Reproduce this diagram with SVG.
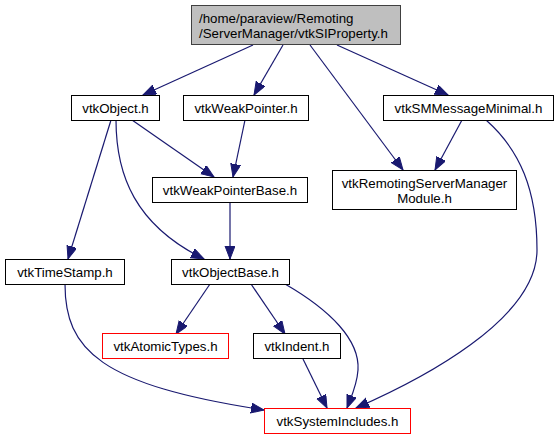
<svg xmlns="http://www.w3.org/2000/svg" width="559" height="440" viewBox="0 0 559 440">
<style>
.box{fill:#ffffff;stroke:#000000;stroke-width:1}
.red{fill:#ffffff;stroke:#ff0000;stroke-width:1}
.main{fill:#bfbfbf;stroke:#404040;stroke-width:1}
text{font-family:"Liberation Sans",Arial,sans-serif;font-size:13.3px;fill:#000000}
.c{text-anchor:middle}
.e{fill:none;stroke:#191970;stroke-width:1.2;marker-end:url(#arr)}
</style>
<defs>
<marker id="arr" markerUnits="userSpaceOnUse" markerWidth="14" markerHeight="11" refX="13" refY="5" orient="auto">
<path d="M0,0 L13,5 L0,10 z" fill="#191970" stroke="#191970" stroke-width="1"/>
</marker>
</defs>
<rect width="559" height="440" fill="#ffffff"/>
<g id="edges">
<path class="e" d="M253,45 L143,95"/>
<path class="e" d="M283,45 L254,95"/>
<path class="e" d="M310,45 L403,170"/>
<path class="e" d="M337,45 L448,95"/>
<path class="e" d="M132,120 L214,177"/>
<path class="e" d="M111,120 L68,259"/>
<path class="e" d="M116,120 C116,175 135,225 204,259"/>
<path class="e" d="M245,120 L233,177"/>
<path class="e" d="M230,202 L230,259"/>
<path class="e" d="M462,120 L435,170"/>
<path class="e" d="M486,120 C520,150 537,190 537,250 C537,320 420,380 356,408"/>
<path class="e" d="M65,284 C65,350 100,385 264,410"/>
<path class="e" d="M210,284 L176,334"/>
<path class="e" d="M251,284 L285,334"/>
<path class="e" d="M285,284 C330,310 360,340 358,370 C357,385 352,395 347,408"/>
<path class="e" d="M303,359 L327,408"/>
</g>
<g id="node_top">
<rect class="main" x="191.5" y="5.5" width="209" height="39"/>
<text x="199" y="23">/home/paraview/Remoting</text>
<text x="199" y="38">/ServerManager/vtkSIProperty.h</text>
</g>
<g id="node_vtkObject">
<rect class="box" x="71.5" y="95.5" width="88" height="25"/>
<text class="c" x="115.5" y="113">vtkObject.h</text>
</g>
<g id="node_vtkWeakPointer">
<rect class="box" x="183.5" y="95.5" width="125" height="25"/>
<text class="c" x="246" y="113">vtkWeakPointer.h</text>
</g>
<g id="node_vtkSMMessageMinimal">
<rect class="box" x="383.5" y="95.5" width="170" height="25"/>
<text class="c" x="468.5" y="113">vtkSMMessageMinimal.h</text>
</g>
<g id="node_vtkWeakPointerBase">
<rect class="box" x="152.5" y="177.5" width="155" height="25"/>
<text class="c" x="230" y="195">vtkWeakPointerBase.h</text>
</g>
<g id="node_vtkRemotingServerManagerModule">
<rect class="box" x="332.5" y="170.5" width="184" height="39"/>
<text class="c" x="424.5" y="188">vtkRemotingServerManager</text>
<text class="c" x="424.5" y="203">Module.h</text>
</g>
<g id="node_vtkTimeStamp">
<rect class="box" x="5.5" y="259.5" width="119" height="25"/>
<text class="c" x="65" y="277">vtkTimeStamp.h</text>
</g>
<g id="node_vtkObjectBase">
<rect class="box" x="171.5" y="259.5" width="118" height="25"/>
<text class="c" x="230.5" y="277">vtkObjectBase.h</text>
</g>
<g id="node_vtkAtomicTypes">
<rect class="red" x="102.5" y="333.5" width="126" height="25"/>
<text class="c" x="165.5" y="351">vtkAtomicTypes.h</text>
</g>
<g id="node_vtkIndent">
<rect class="box" x="253.5" y="333.5" width="87" height="25"/>
<text class="c" x="297" y="351">vtkIndent.h</text>
</g>
<g id="node_vtkSystemIncludes">
<rect class="red" x="264.5" y="408.5" width="146" height="25"/>
<text class="c" x="337.5" y="426">vtkSystemIncludes.h</text>
</g>
</svg>
